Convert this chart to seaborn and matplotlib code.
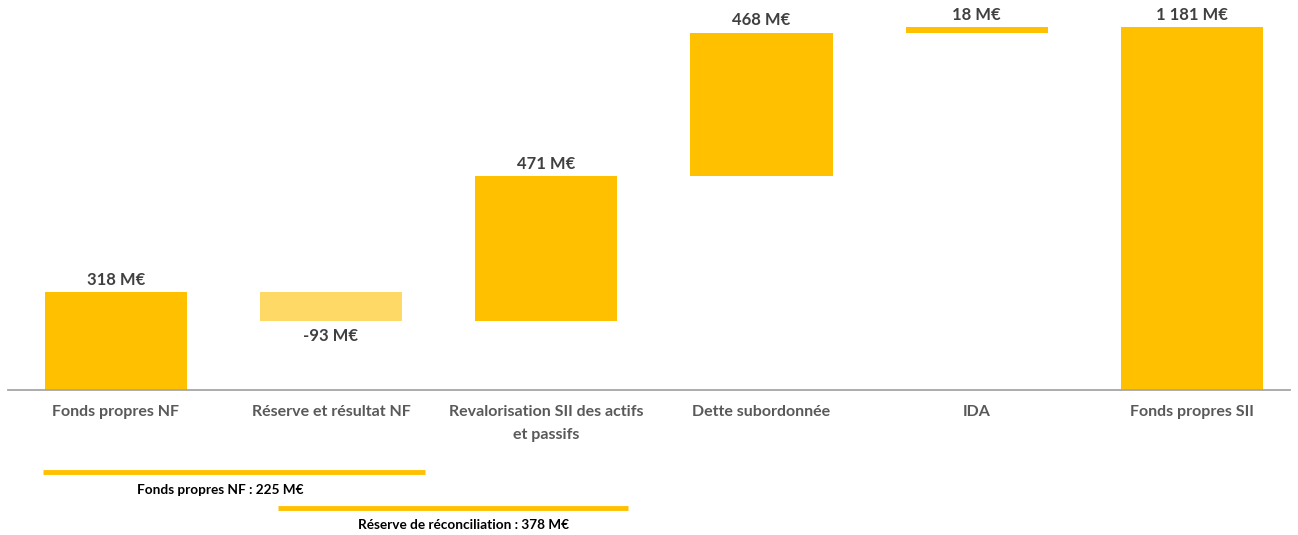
import numpy as np
import pandas as pd
import seaborn as sns
import matplotlib.pyplot as plt
import matplotlib.transforms as mtransforms

# données (M€)
categories = ["Fonds propres NF", "Réserve et résultat NF",
              "Revalorisation SII des actifs\net passifs", "Dette subordonnée",
              "IDA", "Fonds propres SII"]
values = [318, -93, 471, 468, 18, 1181]
is_total = [True, False, False, False, False, True]

bracket_labels = ["Fonds propres NF : 225 M€", "Réserve de réconciliation : 378 M€"]

# cascade : les barres intermédiaires partent du cumul précédent
cum = np.cumsum([0] + values[:-1])
bottoms = [0 if t else c for t, c in zip(is_total, cum)]

df = pd.DataFrame({"cat": categories, "value": values, "bottom": bottoms})

sns.set_style("white")
plt.rcParams["font.family"] = ["Lato", "DejaVu Sans"]

gold = "#FFC000"
light = "#FFD966"

fig = plt.figure(figsize=(12.98, 5.35), dpi=100)
ax = fig.add_axes([8 / 1298, 145 / 535, 1282 / 1298, 390 / 535])

sns.barplot(data=df, x="cat", y="value", order=categories, bottom=df["bottom"].values,
            color=gold, width=0.66, linewidth=0, saturation=1, ax=ax)
for p, v in zip(ax.patches, values):
    if v < 0:
        p.set_facecolor(light)

ax.set_xlim(-0.5, 5.455)
ax.set_ylim(0, 1270)

# étiquettes de valeurs
for i, (v, b) in enumerate(zip(values, bottoms)):
    txt = f"{v:,}".replace(",", " ") + " M€"
    if v >= 0:
        ax.annotate(txt, (i, b + v), xytext=(0, 3), textcoords="offset points",
                    ha="center", va="bottom", fontsize=12, fontweight="bold", color="#404040")
    else:
        ax.annotate(txt, (i, b + v), xytext=(0, -5), textcoords="offset points",
                    ha="center", va="top", fontsize=12, fontweight="bold", color="#404040")

sns.despine(ax=ax, left=True)
ax.spines["bottom"].set_color("#A6A6A6")
ax.spines["bottom"].set_linewidth(1.3)
ax.set_yticks([])
ax.set_xlabel("")
ax.set_ylabel("")
ax.tick_params(axis="x", length=0, pad=11)
for lab in ax.get_xticklabels():
    lab.set_fontsize(11.5)
    lab.set_fontweight("bold")
    lab.set_color("#595959")
    lab.set_linespacing(1.75)

# accolades du bas (réserve)
trans = mtransforms.blended_transform_factory(ax.transData, fig.transFigure)
ax.plot([-0.339, 1.439], [1 - 472 / 535] * 2, color=gold, lw=3.5, transform=trans,
        clip_on=False, solid_capstyle="butt")
ax.text(0.487, 1 - 490 / 535, bracket_labels[0], transform=trans, ha="center", va="center",
        fontsize=9.8, fontweight="bold", color="black")
ax.plot([0.752, 2.382], [1 - 508 / 535] * 2, color=gold, lw=3.5, transform=trans,
        clip_on=False, solid_capstyle="butt")
ax.text(1.615, 1 - 525 / 535, bracket_labels[1], transform=trans, ha="center", va="center",
        fontsize=9.8, fontweight="bold", color="black")

fig.savefig("out.png", dpi=100, facecolor="white")
